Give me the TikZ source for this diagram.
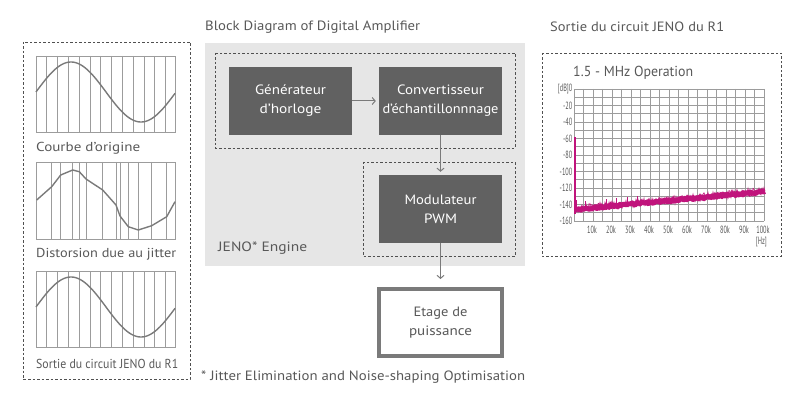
\documentclass[tikz,border=0pt]{standalone}
\usepackage{fontspec}
\setmainfont{PT Sans}
\usetikzlibrary{arrows.meta}
\definecolor{txt}{HTML}{585858}
\definecolor{boxc}{HTML}{616161}
\definecolor{bgc}{HTML}{E6E6E6}
\definecolor{wavec}{HTML}{7A7A7A}
\definecolor{gridc}{HTML}{9C9C9C}
\definecolor{mag}{HTML}{C0147C}
\definecolor{dashc}{HTML}{505050}
\newcommand\fitw[2]{\resizebox{#1}{\height}{#2}}
\begin{document}
\begin{tikzpicture}[x=1pt,y=-1pt,
  dbox/.style={draw=dashc, dash pattern=on 2.5pt off 2pt, line width=0.8pt},
  dark/.style={fill=boxc, text=white, minimum width=123pt, minimum height=68pt, align=center, font=\fontsize{13.5}{19}\selectfont, inner sep=0pt},
  etagebox/.style={draw=wavec, line width=4pt, fill=white, text=txt, minimum width=123pt, minimum height=67pt, align=center, font=\fontsize{13.5}{19}\selectfont, inner sep=0pt},
  arr/.style={draw=wavec, line width=1pt, -{Straight Barb[length=3pt,width=7pt]}},
  lbl/.style={text=txt, font=\fontsize{13.5}{15}\selectfont, anchor=west, inner sep=0pt},
  gridw/.style={draw=gridc, line width=0.8pt},
  wavel/.style={draw=wavec, line width=1.4pt, line join=round},
  tick/.style={text=txt, font=\fontsize{10.5}{10.5}\selectfont, inner sep=0pt}
]
\useasboundingbox (0,0) rectangle (805,414);

% ---------------- left panel ----------------
\draw[dbox] (23,42) rectangle (190,379);
% panel 1
\foreach \k in {0,...,12} \draw[gridw] ({36+\k*10.8},56) -- ({36+\k*10.8},132);
\draw[gridw] (36,56) rectangle (175,132);
\draw[wavel] (36,92) \foreach \s in {37,...,175} { -- (\s,{92-30*sin((\s-36)/140*360)}) };
\node[lbl, font=\fontsize{13}{15}\selectfont] (l1) at (36,148) {\fitw{104pt}{Courbe d'origine}};
% panel 2
\foreach \xx in {51.7,60.7,72.7,79.3,86,102.7,116,120,128.3,138.3,151.7,166.7} \draw[gridw] (\xx,162) -- (\xx,239);
\draw[gridw] (36,162) rectangle (175,239);
\draw[wavel] (36.7,200) -- (51.7,186.7) -- (60.7,175) -- (72.7,170) -- (79.3,171.7) -- (86,179) -- (102.7,190) -- (116,205) -- (120,216) -- (128.3,226.7) -- (138.3,230) -- (151.7,225.7) -- (166.7,216.7) -- (175,201.7);
\node[lbl, font=\fontsize{13}{15}\selectfont] (l2) at (36,254) {\fitw{140pt}{Distorsion due au jitter}};
% panel 3
\foreach \k in {0,...,12} \draw[gridw] ({36+\k*10.8},271) -- ({36+\k*10.8},347);
\draw[gridw] (36,271) rectangle (175,347);
\draw[wavel] (36,307) \foreach \s in {37,...,175} { -- (\s,{307-30*sin((\s-36)/140*360)}) };
\node[lbl, font=\fontsize{13}{15}\selectfont] (l3) at (36,364) {\fitw{142pt}{Sortie du circuit JENO du R1}};

% ---------------- middle ----------------
\node[lbl] (title) at (205,27) {\fitw{215pt}{Block Diagram of Digital Amplifier}};
\fill[bgc] (205,43) rectangle (525,266);
\draw[dbox] (215,53) rectangle (515,148);
\draw[dbox] (363,162) rectangle (515,256);
\node[dark] (gen) at (290.5,101) {\fitw{71pt}{Générateur}\\\fitw{62pt}{d'horloge}};
\node[dark] (conv) at (440.5,101) {\fitw{87pt}{Convertisseur}\\\fitw{116pt}{d'échantillonnnage}};
\node[dark] (mod) at (440.5,209) {\fitw{72pt}{Modulateur}\\\fitw{33pt}{PWM}};
\node[lbl] (jeno) at (218,248) {\fitw{89pt}{JENO* Engine}};
\node[etagebox] (etage) at (440.5,322.5) {\fitw{54pt}{Etage de}\\\fitw{63pt}{puissance}};
\draw[arr, shorten >=3pt] (gen) -- (conv);
\draw[arr, shorten >=3pt] (conv) -- (mod);
\draw[arr, shorten >=8pt] (mod) -- (etage);
\node[lbl] (foot) at (201,377) {\fitw{324pt}{* Jitter Elimination and Noise-shaping Optimisation}};

% ---------------- right ----------------
\node[lbl] (rtitle) at (550,27) {\fitw{174pt}{Sortie du circuit JENO du R1}};
\draw[dbox] (542,53) rectangle (781,256);
\node[lbl, font=\fontsize{14.5}{16}\selectfont] (mhz) at (573,73) {\fitw{120pt}{1.5 - MHz Operation}};
\foreach \r in {0,...,16} \draw[gridw] (574,{89+\r*8.25}) -- (764,{89+\r*8.25});
\foreach \c in {0,...,20} \draw[gridw] ({574+\c*9.5},89) -- ({574+\c*9.5},221);
\node[tick, anchor=east] (db0) at (572.5,89) {\scalebox{0.6}[1]{[dB]0}};
\foreach \v [count=\i] in {-20,-40,-60,-80,-100,-120,-140,-160}
  \node[tick, anchor=east] (dy\i) at (572.5,{89+\i*16.5}) {\scalebox{0.6}[1]{\v}};
\foreach \v [count=\i] in {10k,20k,30k,40k,50k,60k,70k,80k,90k,100k}
  \node[tick] (hx\i) at ({574+\i*19-1},230) {\scalebox{0.6}[1]{\v}};
\node[tick, anchor=east] (hz) at (767,242) {\scalebox{0.6}[1]{[Hz]}};
% spectrum
\pgfmathsetseed{7}
\draw[mag, line width=1.6pt] (575,214) -- (575,137);
\draw[mag, line width=5pt, line join=round] (576,209.5) \foreach \s in {2,...,190} { -- ({575+\s},{209.5-\s*18/190+1.2*rand}) };
\draw[mag, line width=0.7pt] (575,209) \foreach \s in {1,...,190} { -- ({575+\s},{209-\s*18/190+4*rand}) };
\draw[mag, line width=0.7pt] (575,209) \foreach \s in {1,...,190} { -- ({575+\s},{209-\s*18/190+4*rand}) };
\draw[mag, line width=0.8pt] (585,208) -- (585,201) (606,206) -- (606,199) (616,205) -- (616,198) (627,205) -- (627,197) (637,203) -- (637,196) (576,207) -- (576,200);
\end{tikzpicture}
\end{document}
